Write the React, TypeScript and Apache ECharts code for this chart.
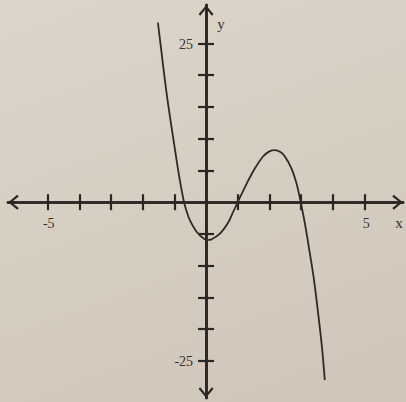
import React, { useEffect, useRef } from 'react';
import * as echarts from 'echarts';

// Points along the plotted curve
const curveX = [-1.52, -1.38, -1.25, -1.12, -1.0, -0.88, -0.79, -0.695, -0.61, -0.515, -0.3, -0.04, 0.07, 0.17, 0.43, 0.7, 0.85, 1.0, 1.28, 1.54, 1.8, 2.0, 2.17, 2.35, 2.49, 2.7, 2.86, 2.99, 3.12, 3.26, 3.4, 3.54, 3.66, 3.75];
const curveY = [28.3, 22.5, 17.3, 12.8, 8.9, 5.0, 2.4, 0, -1.5, -2.8, -4.65, -5.85, -5.95, -5.85, -5.0, -3.2, -1.6, 0, 2.9, 5.3, 7.2, 8.0, 8.2, 7.9, 7.2, 5.3, 2.9, 0, -3.3, -7.5, -11.9, -17.5, -22.8, -28.0];

// Tick marks and labelled ticks
const xTickValues = [-5, -4, -3, -2, -1, 1, 2, 3, 4, 5];
const yTickValues = [-25, -20, -15, -10, -5, 5, 10, 15, 20, 25];
const xLabelValues = [-5, 5];
const yLabelValues = [-25, 25];

const INK = '#2a2624';
const LABEL_INK = '#36312e';
const FONT = '"Liberation Serif", "DejaVu Serif", serif';
const chevron = 'path://M7.5,0L15,9L13.3,10.5L7.5,3.2L1.7,10.5L0,9Z';

const X_MIN = -6.255;
const X_MAX = 6.22;
const Y_MIN = -30.84;
const Y_MAX = 31.06;

export default function App() {
  const ref = useRef<HTMLDivElement>(null);

  useEffect(() => {
    if (!ref.current) return;
    const chart = echarts.init(ref.current, undefined, { renderer: 'svg' });

    const lineStyle = { color: INK, width: 2.6 };
    const tickStyle = { color: INK, width: 2.2 };

    chart.setOption({
      animation: false,
      grid: { left: 8, right: 3, top: 5, bottom: 4, containLabel: false, outerBoundsMode: 'none' },
      xAxis: [
        {
          type: 'value',
          min: X_MIN,
          max: X_MAX,
          position: 'bottom',
          axisLine: {
            onZero: true,
            onZeroAxisIndex: 0,
            symbol: [chevron, chevron],
            symbolSize: [15, 11],
            symbolOffset: [5.5, -5.5],
            lineStyle,
          },
          axisTick: { show: true, length: 8, customValues: xTickValues, lineStyle: tickStyle },
          axisLabel: { show: false },
          splitLine: { show: false },
        },
        {
          type: 'value',
          min: X_MIN,
          max: X_MAX,
          position: 'top',
          axisLine: { onZero: true, onZeroAxisIndex: 0, lineStyle },
          axisTick: { show: true, length: 8, customValues: xTickValues, lineStyle: tickStyle },
          axisLabel: { show: false },
          splitLine: { show: false },
        },
      ],
      yAxis: [
        {
          type: 'value',
          min: Y_MIN,
          max: Y_MAX,
          position: 'left',
          axisLine: {
            show: true,
            onZero: true,
            onZeroAxisIndex: 0,
            symbol: [chevron, chevron],
            symbolSize: [15, 11],
            symbolOffset: [5.5, -5.5],
            lineStyle,
          },
          axisTick: { show: true, length: 8, customValues: yTickValues, lineStyle: tickStyle },
          axisLabel: { show: false },
          splitLine: { show: false },
        },
        {
          type: 'value',
          min: Y_MIN,
          max: Y_MAX,
          position: 'right',
          axisLine: { show: true, onZero: true, onZeroAxisIndex: 0, lineStyle },
          axisTick: { show: true, length: 8, customValues: yTickValues, lineStyle: tickStyle },
          axisLabel: { show: false },
          splitLine: { show: false },
        },
      ],
      series: [
        {
          type: 'line',
          xAxisIndex: 0,
          yAxisIndex: 0,
          data: curveX.map((x, i) => [x, curveY[i]]),
          smooth: 0.35,
          showSymbol: false,
          lineStyle: { color: '#2e2a28', width: 1.8 },
          z: 1,
        },
      ],
    });

    // Tick labels and axis names placed through the chart's own scales
    const px = (x: number, y: number) =>
      chart.convertToPixel({ xAxisIndex: 0, yAxisIndex: 0 }, [x, y]) as number[];
    const textStyle = (text: string, size: number, align: string, vAlign: string) => ({
      text,
      font: `${size}px ${FONT}`,
      fill: LABEL_INK,
      align,
      verticalAlign: vAlign,
    });

    const graphics: any[] = [];
    xLabelValues.forEach((v) => {
      const [gx, gy] = px(v, 0);
      graphics.push({ type: 'text', x: gx + (v < 0 ? 1 : 2), y: gy + 21, style: textStyle(String(v), 14, 'center', 'middle') });
    });
    yLabelValues.forEach((v) => {
      const [gx, gy] = px(0, v);
      graphics.push({ type: 'text', x: gx - 13, y: gy + 1, style: textStyle(String(v), 14, 'right', 'middle') });
    });
    const [xNameX, xNameY] = px(X_MAX, 0);
    graphics.push({ type: 'text', x: xNameX - 4, y: xNameY + 21, style: textStyle('x', 15, 'center', 'middle') });
    const [yNameX, yNameY] = px(0, Y_MAX);
    graphics.push({ type: 'text', x: yNameX + 15, y: yNameY + 19, style: textStyle('y', 15, 'center', 'middle') });

    chart.setOption({ graphic: graphics });

    return () => chart.dispose();
  }, []);

  return (
    <div
      ref={ref}
      style={{
        position: 'fixed',
        left: 0,
        top: 0,
        width: 406,
        height: 402,
        background: 'linear-gradient(160deg, #ddd5ca 0%, #d6cdc1 55%, #cfc5b8 100%)',
      }}
    />
  );
}
